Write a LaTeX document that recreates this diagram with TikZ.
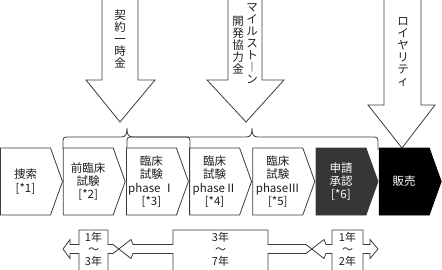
\documentclass[tikz,border=0pt]{standalone}
\usepackage{fontspec}
\setmainfont{Noto Sans CJK JP}
\usepackage{xcolor}
\usepackage{tikz}
\definecolor{ink}{HTML}{3C3C3C}
\definecolor{charcoal}{HTML}{363636}
\definecolor{txt}{HTML}{1E1E1E}
\tikzset{
  payarrow/.style={draw=ink,fill=white,line join=miter},
  stage/.style={draw=ink,fill=white,line join=miter},
  stagedark/.style={draw=ink,fill=charcoal,line join=miter},
  stageend/.style={draw=black,fill=black,line join=miter},
  stagetext/.style={align=center,inner sep=0pt,text=txt,font=\fontsize{11.5}{13.3}\selectfont},
  tate/.style={align=center,inner sep=0pt,text=txt,font=\fontsize{11.5}{12}\selectfont},
  span/.style={draw=ink,line join=miter},
  spantext/.style={align=center,inner sep=0pt,text=txt,font=\fontsize{11}{12}\selectfont}
}
\begin{document}
\begin{tikzpicture}[x=1pt,y=-1pt,line width=0.8pt]
\useasboundingbox (0,0) rectangle (442,270);
% payments coming down
\draw[payarrow] (102,-3)--(102,80)--(86,80)--(120,122)--(155,80)--(138,80)--(138,-3);
\node[tate] (keiyaku) at (120,39) {契\\約\\一\\時\\金};
\draw[payarrow] (228,-3)--(228,80)--(207,80)--(246,122)--(284,80)--(262,80)--(262,-3);
\node[tate] (milestone) at (252,44) {マ\\イ\\ル\\ス\\ト\\︱\\ン};
\node[tate] (kaihatsu) at (238,45) {開\\発\\協\\力\\金};
\draw[payarrow] (384,-3)--(384,105)--(368,105)--(402,148)--(435,105)--(421,105)--(421,-3);
\node[tate] (royalty) at (403,52) {ロ\\イ\\ヤ\\リ\\テ\\ィ};
% braces
\draw[span] (63,149)--(63,144) .. controls (63,137) .. (70,137)--(121,137)
  .. controls (126,137) and (127,134) .. (127,128) .. controls (127,134) and (128,137) .. (133,137)
  --(183,137) .. controls (190,137) .. (190,144)--(190,149);
\draw[span] (127,149)--(127,144) .. controls (127,137) .. (134,137)--(246,137)
  .. controls (251,137) and (252,134) .. (252,128) .. controls (252,134) and (253,137) .. (258,137)
  --(371,137) .. controls (378,137) .. (378,144)--(378,150);
% stages
\draw[stage] (0.5,148)--(50.5,148)--(62.5,181.5)--(50.5,215)--(0.5,215)--cycle;
\node[stagetext] (tansaku) at (25.5,181.5) {捜索\\{[*1]}};
\draw[stage] (63.2,148)--(113.2,148)--(125.2,181.5)--(113.2,215)--(63.2,215)--cycle;
\node[stagetext] (zenrinsho) at (88.2,181.5) {前臨床\\試験\\{[*2]}};
\draw[stage] (126.4,148)--(176.4,148)--(188.4,181.5)--(176.4,215)--(126.4,215)--cycle;
\node[stagetext] (phase1) at (151.4,181.5) {臨床\\試験\\phase Ⅰ\\{[*3]}};
\draw[stage] (189.6,148)--(239.6,148)--(251.6,181.5)--(239.6,215)--(189.6,215)--cycle;
\node[stagetext] (phase2) at (214.6,181.5) {臨床\\試験\\phaseⅡ\\{[*4]}};
\draw[stage] (252.8,148)--(302.8,148)--(314.8,181.5)--(302.8,215)--(252.8,215)--cycle;
\node[stagetext] (phase3) at (277.8,181.5) {臨床\\試験\\phaseⅢ\\{[*5]}};
\draw[stagedark] (316,148)--(366,148)--(378,181.5)--(366,215)--(316,215)--cycle;
\node[stagetext,text=white] (shonin) at (341,181.5) {申請\\承認\\{[*6]}};
\draw[stageend] (379.2,148)--(429.2,148)--(441.2,181.5)--(429.2,215)--(379.2,215)--cycle;
\node[stagetext,text=white] (hanbai) at (404.2,181.5) {販売};
% durations
\draw[span] (79,272)--(79,253.5)--(70,253.5)--(70,258.5)--(63,249)--(70,239.5)--(70,244.5)--(79,244.5)
  --(79,230)--(108,230)--(108,244.5)--(113,244.5)--(131,258.5)--(133,253.5)--(173,253.5)--(173,272);
\draw[span] (108,272)--(108,253.5)--(113,253.5)--(131,239.5)--(133,244.5)--(173,244.5)--(173,230)
  --(268,230)--(268,244.5)--(306,244.5)--(324,258.5)--(326,253.5)--(332,253.5)--(332,272);
\draw[span] (268,272)--(268,253.5)--(306,253.5)--(324,239.5)--(326,244.5)--(332,244.5)--(332,230)
  --(363,230)--(363,244.5)--(370,244.5)--(370,239.5)--(378,249)--(370,258.5)--(370,253.5)--(363,253.5)--(363,272);
\node[spantext] (yr13) at (93.5,249) {1年\\〜\\3年};
\node[spantext] (yr37) at (220.5,249) {3年\\〜\\7年};
\node[spantext] (yr12) at (347.5,249) {1年\\〜\\2年};
\end{tikzpicture}
\end{document}
